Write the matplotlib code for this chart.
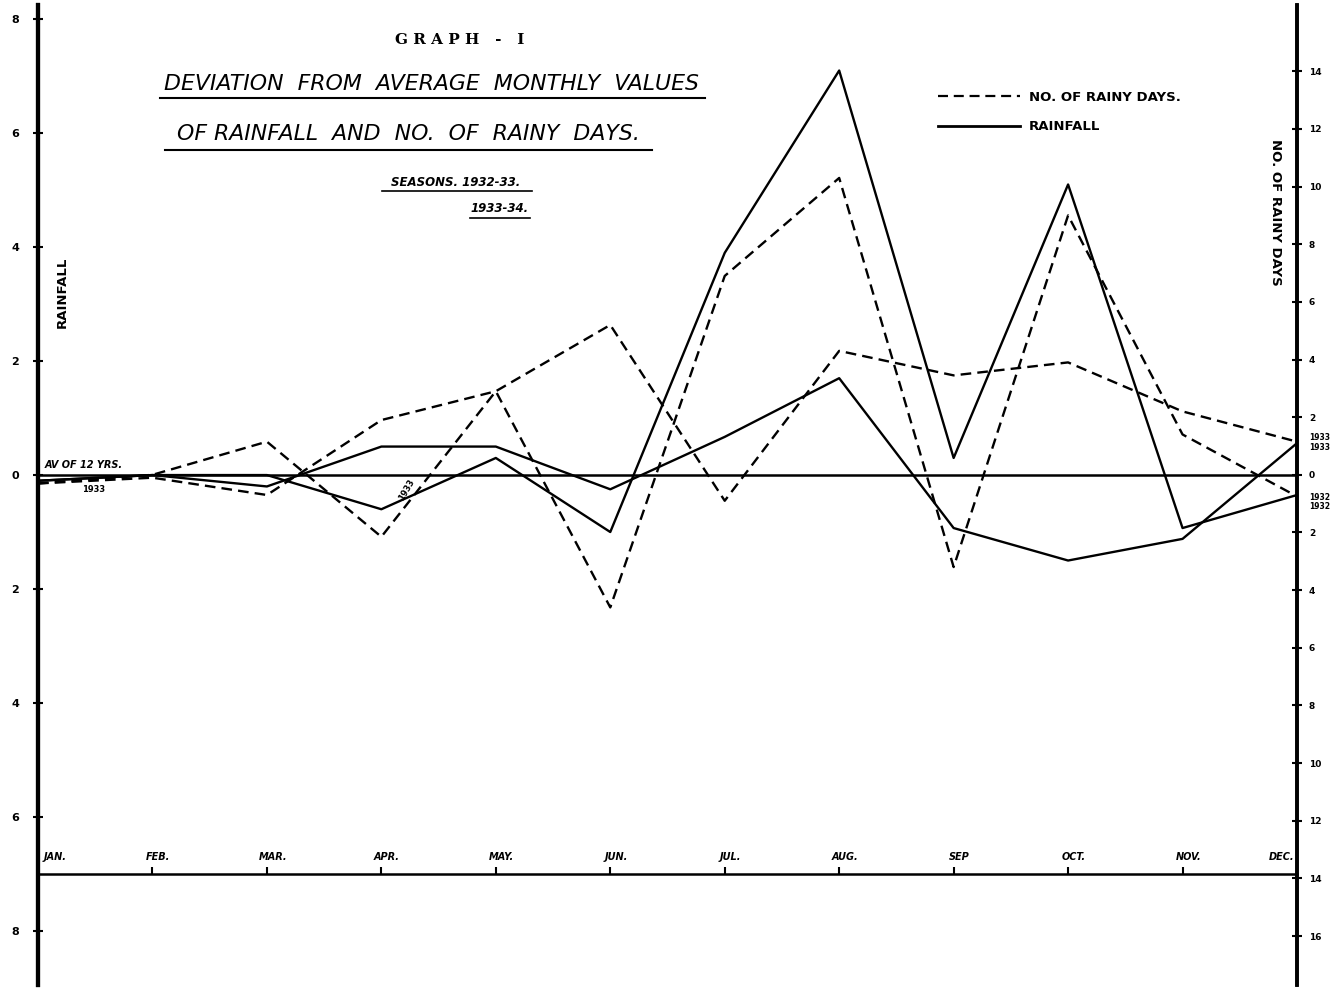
import numpy as np
import matplotlib.pyplot as plt
from matplotlib.lines import Line2D

# mois (axe horizontal)
mois = ['JAN.', 'FEB.', 'MAR.', 'APR.', 'MAY.', 'JUN.', 'JUL.', 'AUG.', 'SEP', 'OCT.', 'NOV.', 'DEC.']

# ecart a la moyenne de 12 ans - pluie (pouces), deux saisons
pluie_s1 = [-0.1, 0.0, 0.0, -0.6, 0.3, -1.0, 3.9, 7.1, 0.3, 5.1, -0.93, -0.35]
pluie_s2 = [-0.1, 0.0, -0.2, 0.5, 0.5, -0.25, 0.67, 1.7, -0.93, -1.5, -1.12, 0.56]

# ecart a la moyenne - nombre de jours de pluie
jours_s1 = [-0.3, 0.0, 1.15, -2.15, 2.9, -4.6, 6.9, 10.3, -3.2, 9.0, 1.4, -0.75]
jours_s2 = [-0.3, -0.1, -0.7, 1.9, 2.9, 5.2, -0.9, 4.3, 3.45, 3.9, 2.2, 1.15]

ticks_pluie = [8, 6, 4, 2, 0, -2, -4, -6, -8]
ticks_jours = [14, 12, 10, 8, 6, 4, 2, 0, -2, -4, -6, -8, -10, -12, -14, -16]

W, H = 1333, 988
def fx(px):
    return px / W
def fy(py):
    return 1 - py / H

fig = plt.figure(figsize=(W / 100, H / 100), dpi=100)
ax = fig.add_axes([fx(38), fy(985), fx(1297) - fx(38), fy(5) - fy(985)])
x = np.arange(len(mois))

ax.set_xlim(0, len(mois) - 1)
ax.set_ylim(-8.95, 8.25)

# axe des jours (a peu pres echelle double)
ax2 = ax.twinx()
ax2.set_ylim(-17.7, 16.3)

tiret = (4.5, 2.6)
ax.plot(x, pluie_s1, color='black', lw=1.7)
ax.plot(x, pluie_s2, color='black', lw=1.7)
ax2.plot(x, jours_s1, color='black', lw=1.7, dashes=tiret)
ax2.plot(x, jours_s2, color='black', lw=1.7, dashes=tiret)

# ligne de la moyenne
ax.axhline(0, color='black', lw=1.8)

# spines
for a in (ax, ax2):
    a.spines['top'].set_visible(False)
    a.spines['left'].set_linewidth(3)
    a.spines['right'].set_linewidth(2.6)
ax.spines['bottom'].set_position(('data', -7))
ax.spines['bottom'].set_linewidth(1.8)
ax2.spines['bottom'].set_visible(False)

ax.set_xticks(x)
ax.set_xticklabels([])
ax.tick_params(axis='x', direction='in', length=5, width=1.5)

ax.set_yticks(ticks_pluie)
ax.set_yticklabels([str(abs(t)) for t in ticks_pluie], fontsize=8, fontweight='bold')
ax.tick_params(axis='y', direction='inout', length=7, width=1.5, pad=10)

ax2.set_yticks(ticks_jours)
ax2.set_yticklabels([str(abs(t)) for t in ticks_jours], fontsize=6.5, fontweight='bold')
ax2.tick_params(axis='y', direction='inout', length=7, width=1.5, pad=5)

# noms des mois au-dessus de la ligne du bas
for i, m in enumerate(mois):
    ha = 'center'
    xi = i + 0.05
    if i == 0:
        ha, xi = 'left', 0.05
    elif i == len(mois) - 1:
        ha, xi = 'right', i - 0.02
    ax.text(xi, -6.7, m, ha=ha, va='center', fontsize=7, fontweight='bold', fontstyle='italic')

# titres
fig.text(fx(460), fy(40), 'G R A P H   -   I', ha='center', va='center',
         fontsize=11, fontweight='bold', family='DejaVu Serif')
fig.text(fx(432), fy(84), 'DEVIATION  FROM  AVERAGE  MONTHLY  VALUES', ha='center', va='center',
         fontsize=15.8, fontstyle='italic')
fig.text(fx(408), fy(134), 'OF RAINFALL  AND  NO.  OF  RAINY  DAYS.', ha='center', va='center',
         fontsize=15.8, fontstyle='italic')
fig.text(fx(456), fy(182), 'SEASONS. 1932-33.', ha='center', va='center',
         fontsize=8.5, fontweight='bold', fontstyle='italic')
fig.text(fx(500), fy(209), '1933-34.', ha='center', va='center',
         fontsize=8.5, fontweight='bold', fontstyle='italic')

# soulignements
for (x0, x1, yy, lw) in [(160, 705, 98, 1.5), (165, 652, 150, 1.5), (382, 532, 191, 1.2), (470, 530, 218, 1.2)]:
    fig.add_artist(Line2D([fx(x0), fx(x1)], [fy(yy), fy(yy)], transform=fig.transFigure,
                          color='black', lw=lw))

# titres des axes
fig.text(fx(62), fy(292), 'RAINFALL', rotation=90, ha='center', va='center',
         fontsize=9.5, fontweight='bold')
fig.text(fx(1276), fy(212), 'NO. OF RAINY DAYS', rotation=-90, ha='center', va='center',
         fontsize=9.5, fontweight='bold')

# legende
proxies = [Line2D([], [], color='black', lw=1.6, dashes=tiret),
           Line2D([], [], color='black', lw=2)]
leg = ax.legend(proxies, ['NO. OF RAINY DAYS.', 'RAINFALL'], loc='center left',
                bbox_to_anchor=(fx(926), fy(112)), bbox_transform=fig.transFigure,
                frameon=False, handlelength=6.2, handletextpad=0.7, labelspacing=1.25,
                prop={'size': 9.5, 'weight': 'bold'})

# annotations
fig.text(fx(45), fy(465), 'AV OF 12 YRS.', ha='left', va='center', fontsize=7,
         fontweight='bold', fontstyle='italic')
fig.text(fx(82), fy(489), '1933', ha='left', va='center', fontsize=6, fontweight='bold')
fig.text(fx(407), fy(490), '1933', ha='center', va='center', fontsize=6, fontweight='bold',
         rotation=60)
for (yy, s) in [(437, '1933'), (447, '1933'), (497, '1932'), (506, '1932')]:
    fig.text(fx(1309), fy(yy), s, ha='left', va='center', fontsize=5.5, fontweight='bold')

fig.savefig('out.png', dpi=100)
